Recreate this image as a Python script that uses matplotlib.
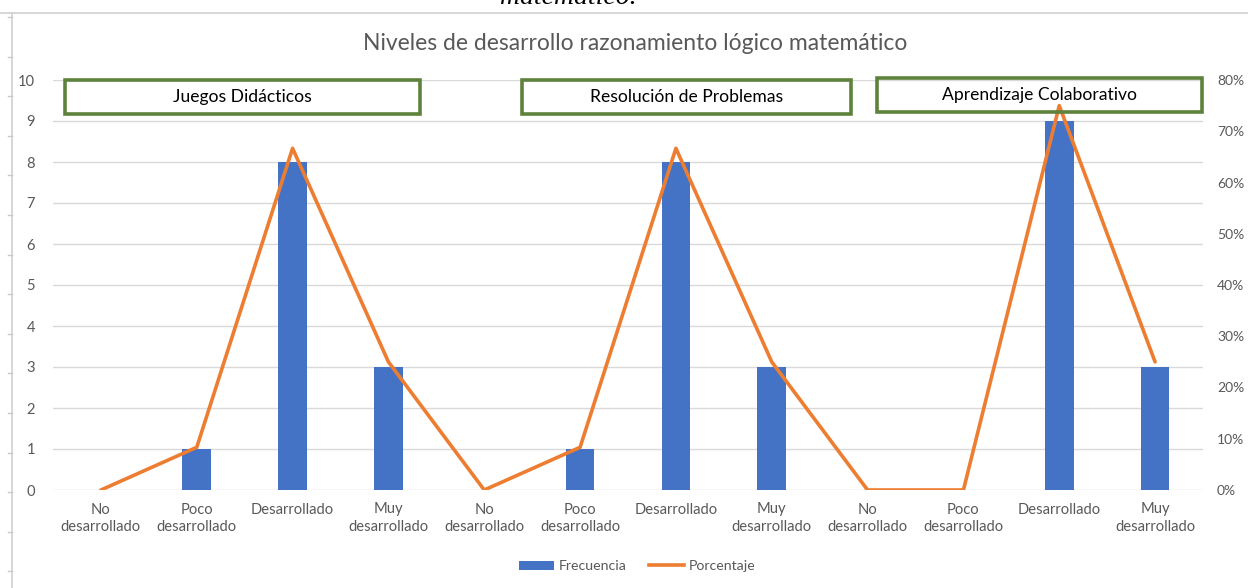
import matplotlib
matplotlib.use('Agg')
import matplotlib.pyplot as plt
from matplotlib.lines import Line2D
from matplotlib.patches import Patch
from matplotlib.ticker import PercentFormatter

plt.rcParams['font.family'] = ['Lato', 'DejaVu Sans']

# datos
categorias = ['No\ndesarrollado', 'Poco\ndesarrollado', 'Desarrollado', 'Muy\ndesarrollado'] * 3
frecuencia = [0, 1, 8, 3, 0, 1, 8, 3, 0, 0, 9, 3]
porcentaje = [0, 1/12, 8/12, 3/12, 0, 1/12, 8/12, 3/12, 0, 0, 9/12, 3/12]
grupos = ['Juegos Didácticos', 'Resolución de Problemas', 'Aprendizaje Colaborativo']

GRIS = '#595959'
AZUL = '#4472C4'
NARANJA = '#ED7D31'
VERDE = '#5E823C'

fig = plt.figure(figsize=(12.48, 5.88), dpi=100)
W, H = 1248, 588

def fx(px):
    return px / W

def fy(py):
    return 1 - py / H

ax = fig.add_axes([fx(53), fy(490), fx(1203) - fx(53), fy(80) - fy(490)])
x = list(range(len(categorias)))
ax.bar(x, frecuencia, width=0.3, color=AZUL, zorder=3)
ax.set_xlim(-0.5, len(categorias) - 0.5)
ax.set_ylim(0, 10)
ax.set_yticks(range(0, 11))
ax.set_xticks(x)
ax.set_xticklabels(categorias, fontsize=10.6, color=GRIS, linespacing=1.3)
ax.tick_params(axis='y', length=0, labelcolor=GRIS, labelsize=10.6, pad=13)
ax.tick_params(axis='x', length=0, pad=9)
ax.grid(axis='y', color='#D9D9D9', linewidth=1, zorder=0)
for s in ax.spines.values():
    s.set_visible(False)

ax2 = ax.twinx()
ax2.plot(x, porcentaje, color=NARANJA, linewidth=2.6, zorder=4, solid_capstyle='round')
ax2.set_ylim(0, 0.8)
ax2.set_yticks([i / 10 for i in range(9)])
ax2.yaxis.set_major_formatter(PercentFormatter(1.0, decimals=0))
ax2.tick_params(axis='y', length=0, labelcolor=GRIS, labelsize=10, pad=10)
for s in ax2.spines.values():
    s.set_visible(False)

# cajas de grupo
cajas = [(65, 420, 97), (522, 851, 97), (877, 1202, 95)]
for nombre, (x0, x1, yc) in zip(grupos, cajas):
    fig.text(fx((x0 + x1) / 2), fy(yc), nombre, ha='center', va='center',
             fontsize=12.6, color='black', zorder=10)
    rect = plt.Rectangle((fx(x0), fy(yc + 17)), fx(x1) - fx(x0), fy(yc - 17) - fy(yc + 17),
                         transform=fig.transFigure, fill=False, edgecolor=VERDE,
                         linewidth=2.6, zorder=9)
    fig.add_artist(rect)

fig.text(fx(635), fy(44), 'Niveles de desarrollo razonamiento lógico matemático',
         ha='center', va='center', fontsize=16.5, color=GRIS)

# leyenda
handles = [Patch(facecolor=AZUL, edgecolor='none'),
           Line2D([0], [0], color=NARANJA, linewidth=2.6)]
fig.legend(handles, ['Frecuencia', 'Porcentaje'], loc='center', bbox_to_anchor=(fx(637), fy(566)),
           ncol=2, frameon=False, fontsize=10.2, labelcolor=GRIS, handlelength=2.5,
           handleheight=0.6, columnspacing=1.6, handletextpad=0.3)

# bordes del documento
fig.add_artist(Line2D([0, 1], [fy(13), fy(13)], transform=fig.transFigure, color='#D0D0D0', linewidth=1.2))
fig.add_artist(Line2D([fx(12), fx(12)], [fy(13), 0], transform=fig.transFigure, color='#D0D0D0', linewidth=1.2))
py = 17
while py < H:
    fig.add_artist(Line2D([fx(8), fx(12)], [fy(py), fy(py)], transform=fig.transFigure, color='#C8C8C8', linewidth=1))
    py += 39.6

fig.text(fx(568), fy(4), 'matemático.', ha='center', va='baseline', fontsize=20,
         family='Liberation Serif', style='italic', color='black')

fig.savefig('out.png', dpi=100)
